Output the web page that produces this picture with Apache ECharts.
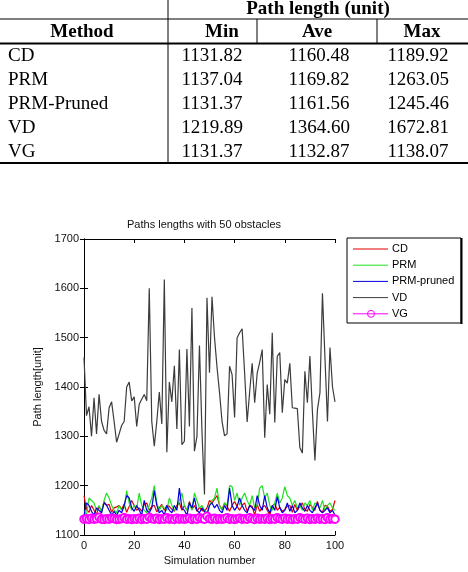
<!DOCTYPE html>
<html>
<head>
<meta charset="utf-8">
<script src="https://cdn.jsdelivr.net/npm/echarts@6/dist/echarts.min.js"></script>
<style>
  html, body { margin: 0; padding: 0; background: #fff; }
</style>
</head>
<body>
<!-- chart + summary table share one canvas -->
<div id="container" style="width: 468px;height:572px;"></div>
<script>
  // summary table
  var tableHeader = ['Method', 'Min', 'Ave', 'Max'];
  var tableGroup = 'Path length (unit)';
  var tableMethods = ['CD', 'PRM', 'PRM-Pruned', 'VD', 'VG'];
  var tableMin = ['1131.82', '1137.04', '1131.37', '1219.89', '1131.37'];
  var tableAve = ['1160.48', '1169.82', '1161.56', '1364.60', '1132.87'];
  var tableMax = ['1189.92', '1263.05', '1245.46', '1672.81', '1138.07'];

  // path lengths per simulation, simulations 0..100
  var cdValues = [
    1180, 1152, 1146, 1160, 1150, 1142, 1158, 1148, 1168, 1160,
    1162, 1146, 1155, 1157, 1160, 1152, 1163, 1146, 1158, 1170,
    1160, 1150, 1155, 1148, 1162, 1165, 1150, 1158, 1160, 1147,
    1155, 1162, 1150, 1160, 1158, 1152, 1148, 1160, 1165, 1150,
    1160, 1150, 1168, 1152, 1160, 1148, 1156, 1150, 1148, 1155,
    1170, 1165, 1172, 1180, 1160, 1152, 1165, 1158, 1148, 1160,
    1168, 1158, 1150, 1160, 1165, 1148, 1160, 1158, 1140, 1162,
    1148, 1156, 1160, 1150, 1140, 1158, 1164, 1150, 1156, 1148,
    1152, 1158, 1160, 1146, 1162, 1150, 1158, 1165, 1152, 1148,
    1162, 1156, 1150, 1168, 1150, 1146, 1160, 1158, 1148, 1152,
    1170
  ];
  var prmValues = [
    1150, 1140, 1175, 1170, 1165, 1150, 1160, 1145, 1170, 1185,
    1175, 1160, 1150, 1145, 1160, 1150, 1155, 1190, 1165, 1150,
    1160, 1155, 1185, 1160, 1150, 1145, 1160, 1175, 1200, 1165,
    1150, 1160, 1155, 1150, 1175, 1160, 1150, 1155, 1170, 1185,
    1160, 1150, 1165, 1150, 1185, 1170, 1155, 1160, 1150, 1145,
    1160, 1170, 1175, 1195, 1160, 1150, 1165, 1160, 1200, 1198,
    1170, 1185, 1160, 1175, 1185, 1170, 1160, 1180, 1155, 1160,
    1195, 1200, 1175, 1185, 1160, 1150, 1165, 1185, 1165, 1175,
    1198, 1180, 1175, 1160, 1170, 1155, 1160, 1150, 1165, 1160,
    1170, 1150, 1165, 1160, 1155, 1170, 1150, 1160, 1165, 1155,
    1150
  ];
  var prmPrunedValues = [
    1140, 1165, 1160, 1148, 1140, 1155, 1150, 1145, 1165, 1160,
    1150, 1140, 1148, 1140, 1150, 1145, 1160, 1180, 1175, 1155,
    1148, 1160, 1150, 1140, 1170, 1150, 1145, 1155, 1190, 1160,
    1145, 1150, 1140, 1160, 1150, 1145, 1160, 1150, 1195, 1155,
    1150, 1140, 1165, 1155, 1175, 1150, 1145, 1155, 1148, 1140,
    1160, 1165, 1155, 1162, 1150, 1145, 1160, 1150, 1195, 1160,
    1150, 1158, 1175, 1160, 1150, 1145, 1160, 1155, 1150, 1180,
    1160, 1150, 1180, 1155, 1145, 1160, 1150, 1178, 1155, 1145,
    1150, 1165, 1148, 1160, 1145, 1150, 1165, 1155, 1148, 1160,
    1150, 1145, 1155, 1165, 1150, 1145, 1150, 1155, 1145, 1150,
    1140
  ];
  var vdValues = [
    1460, 1342, 1360, 1300, 1378, 1305, 1385, 1330, 1312, 1305,
    1358, 1370, 1330, 1288, 1305, 1322, 1330, 1400, 1410, 1372,
    1380, 1320, 1365, 1375, 1385, 1372, 1600, 1330, 1280, 1330,
    1390, 1325, 1618, 1268, 1410, 1370, 1443, 1315, 1476, 1283,
    1290, 1477, 1320, 1560, 1270, 1300, 1484, 1310, 1182, 1581,
    1429, 1583, 1500, 1440, 1388, 1330, 1301, 1305, 1442, 1425,
    1338, 1500, 1510, 1518, 1428, 1329, 1390, 1448, 1368, 1428,
    1450, 1476, 1297, 1405, 1345, 1510, 1328, 1462, 1470, 1348,
    1415, 1408, 1448, 1358, 1357, 1356, 1277, 1266, 1432, 1368,
    1463, 1350, 1251, 1354, 1388, 1590, 1460, 1330, 1480, 1400,
    1370
  ];
  var vgValues = [
    1132, 1133, 1131.5, 1134, 1132, 1133, 1136, 1132, 1131.5, 1133,
    1132, 1134, 1133, 1131.5, 1132, 1133, 1135, 1132, 1133, 1131.5,
    1133, 1132, 1134, 1131.5, 1133, 1132, 1136, 1133, 1132, 1134,
    1131.5, 1133, 1132, 1135, 1132, 1133, 1131.5, 1134, 1132, 1133,
    1132, 1133, 1134, 1131.5, 1133, 1132, 1135, 1133, 1132, 1138,
    1133, 1132, 1134, 1131.5, 1133, 1132, 1133, 1135, 1132, 1133,
    1131.5, 1133, 1134, 1132, 1133, 1132, 1135, 1133, 1131.5, 1134,
    1132, 1133, 1132, 1134, 1131.5, 1133, 1132, 1135, 1133, 1132,
    1134, 1132, 1133, 1131.5, 1133, 1132, 1135, 1133, 1132, 1134,
    1131.5, 1133, 1132, 1134, 1132, 1133, 1131.5, 1135, 1132, 1133,
    1132
  ];

  var legendNames = ['CD', 'PRM', 'PRM-pruned', 'VD', 'VG'];
  var seriesColors = {'CD': '#e00000', 'PRM': '#22e022', 'PRM-pruned': '#0000e0', 'VD': '#3c3c3c', 'VG': '#ff00ff'};

  function pairs(vals) {
    return vals.map(function (v, i) { return [i, v]; });
  }

  var graphics = [];
  function hline(y, x1, x2, w) {
    graphics.push({type: 'line', silent: true, shape: {x1: x1, y1: y, x2: x2, y2: y}, style: {stroke: '#000', lineWidth: w}});
  }
  function vline(x, y1, y2, w) {
    graphics.push({type: 'line', silent: true, shape: {x1: x, y1: y1, x2: x, y2: y2}, style: {stroke: '#000', lineWidth: w}});
  }
  function txt(s, x, y, font, align) {
    graphics.push({
      type: 'text', silent: true,
      style: {
        text: s, x: x, y: y, fill: '#000', font: font,
        textAlign: align || 'center', textVerticalAlign: 'middle'
      }
    });
  }

  // table drawn with graphic elements
  var serif = '"Liberation Serif", "Times New Roman", serif';
  var bold = 'bold 19px ' + serif, plain = '19px ' + serif;
  var rowTop = 56, rowStep = 24;
  hline(19, 0, 468, 1);
  hline(43.5, 0, 468, 2);
  hline(163, 0, 468, 2);
  vline(168, 0, 164, 1);
  vline(257, 19, 43, 1);
  vline(377, 19, 43, 1);
  txt(tableGroup, 318, 9, bold);
  txt(tableHeader[0], 82, 32, bold);
  txt(tableHeader[1], 222, 32, bold);
  txt(tableHeader[2], 317, 32, bold);
  txt(tableHeader[3], 422, 32, bold);
  tableMethods.forEach(function (m, i) {
    var y = rowTop + i * rowStep;
    txt(m, 8, y, plain, 'left');
    txt(tableMin[i], 212, y, plain);
    txt(tableAve[i], 319, y, plain);
    txt(tableMax[i], 418, y, plain);
  });

  // matlab-style legend box
  var sans = '"Liberation Sans", Arial, sans-serif';
  graphics.push({type: 'rect', silent: true, shape: {x: 347, y: 238, width: 114, height: 85},
    style: {fill: '#fff', stroke: '#000', lineWidth: 1}});
  vline(461.5, 238, 324, 2);
  legendNames.forEach(function (n, i) {
    var y = 249 + i * 16.2;
    var c = seriesColors[n];
    graphics.push({type: 'line', silent: true, shape: {x1: 353, y1: y, x2: 388, y2: y},
      style: {stroke: c, lineWidth: 1}});
    if (n === 'VG') {
      graphics.push({type: 'circle', silent: true, shape: {cx: 371, cy: y, r: 3.5},
        style: {fill: 'none', stroke: c, lineWidth: 1}});
    }
    txt(n, 392, y, '11px ' + sans, 'left');
  });

  var myChart = echarts.init(document.getElementById('container'));
  var tickStyle = {show: true, inside: true, length: 4, lineStyle: {color: '#000'}};
  var plainNum = function (v) { return String(v); };
  var lineSeries = function (name, vals) {
    return {
      name: name, type: 'line', data: pairs(vals),
      showSymbol: false, symbol: 'none',
      lineStyle: {color: seriesColors[name], width: 1.2}, itemStyle: {color: seriesColors[name]}
    };
  };

  myChart.setOption({
    animation: false,
    textStyle: {fontFamily: sans},
    title: {
      text: 'Paths lengths with 50 obstacles',
      left: 127, top: 219, padding: 0,
      textStyle: {fontSize: 11, fontWeight: 'normal', color: '#111', fontFamily: sans}
    },
    grid: {left: 84, top: 239, width: 251, height: 296, containLabel: false},
    xAxis: [
      {
        type: 'value', min: 0, max: 100, interval: 20,
        name: 'Simulation number', nameLocation: 'middle', nameGap: 19,
        nameTextStyle: {fontSize: 11, color: '#111'},
        axisLine: {lineStyle: {color: '#000', width: 1}},
        axisTick: tickStyle,
        axisLabel: {fontSize: 11, color: '#111', margin: 5, formatter: plainNum},
        splitLine: {show: false}
      },
      {
        type: 'value', min: 0, max: 100, interval: 20, position: 'top',
        axisLine: {show: true, lineStyle: {color: '#000', width: 1}},
        axisTick: tickStyle, axisLabel: {show: false}, splitLine: {show: false}
      }
    ],
    yAxis: [
      {
        type: 'value', min: 1100, max: 1700, interval: 100,
        name: 'Path length[unit]', nameLocation: 'middle', nameGap: 30, nameRotate: 90,
        nameTextStyle: {fontSize: 11, color: '#111'},
        axisLine: {show: true, lineStyle: {color: '#000', width: 1}},
        axisTick: tickStyle,
        axisLabel: {fontSize: 11, color: '#111', margin: 5, formatter: plainNum},
        splitLine: {show: false}
      },
      {
        type: 'value', min: 1100, max: 1700, interval: 100, position: 'right',
        axisLine: {show: true, lineStyle: {color: '#000', width: 1}},
        axisTick: tickStyle, axisLabel: {show: false}, splitLine: {show: false}
      }
    ],
    series: [
      lineSeries('VD', vdValues),
      lineSeries('CD', cdValues),
      lineSeries('PRM', prmValues),
      lineSeries('PRM-pruned', prmPrunedValues),
      {
        name: 'VG', type: 'line', data: pairs(vgValues),
        symbol: 'emptyCircle', symbolSize: 7.5, showSymbol: true,
        lineStyle: {color: seriesColors['VG'], width: 1},
        itemStyle: {color: seriesColors['VG'], borderColor: seriesColors['VG'], borderWidth: 1}
      }
    ],
    graphic: graphics
  });
</script>
</body>
</html>
